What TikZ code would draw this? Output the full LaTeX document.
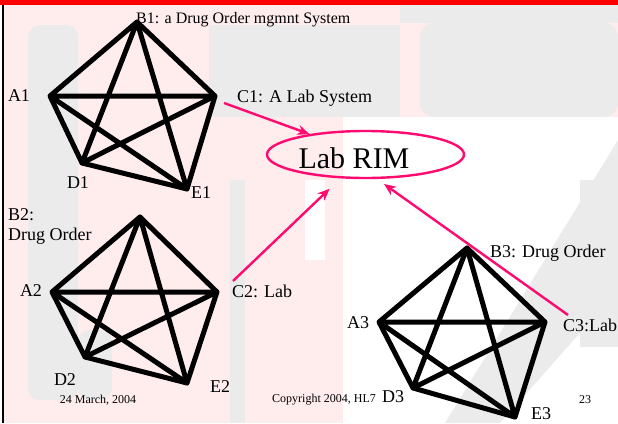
\documentclass[tikz,border=0pt]{standalone}
\usepackage{fontspec}
\setmainfont{Liberation Serif}
\usetikzlibrary{arrows.meta,shapes.geometric}
\definecolor{rimpink}{HTML}{FF0A6E}
\definecolor{wmpink}{HTML}{FFEDED}
\definecolor{wmgray}{HTML}{EBEBEB}
\tikzset{
  edge/.style={line width=5pt,line join=round,line cap=round},
  link/.style={draw=rimpink,line width=2.4pt,-{Stealth[length=12pt,width=10pt]}},
  vlabel/.style={font=\fontsize{18}{20}\selectfont,inner sep=1pt},
  syslabel/.style={font=\fontsize{16}{18}\selectfont,inner sep=1pt},
  footer/.style={font=\fontsize{12}{14}\selectfont,inner sep=1pt}
}

\begin{document}
\begin{tikzpicture}[x=1pt,y=-1pt]
    \useasboundingbox (0,0) rectangle (618,423);
    \fill[white] (0,0) rectangle (618,423);
    \fill[wmpink] (3,5) rectangle (618,423);
    \fill[wmgray,rounded corners=12pt] (28,25) rectangle (78,400);
    \fill[wmgray,rounded corners=12pt] (78,330) rectangle (112,400);
    \fill[wmgray] (209,25) rectangle (400,117);
    \fill[wmgray] (400,5) rectangle (618,23);
    \fill[wmgray,rounded corners=14pt] (420,23) rectangle (618,117);
    \fill[wmgray] (230,180) rectangle (245,423);
    \fill[white] (343,117) rectangle (618,423);
    \fill[white] (305,180) -- (325,180) -- (325,260) -- (305,260) -- cycle;
    \fill[wmgray] (618,140) -- (618,290) -- (500,423) -- (445,423) -- cycle;
    \fill[wmgray] (580,180) rectangle (618,347);
    \fill[red] (0,0) rectangle (618,5);
    \draw[line width=1.5pt] (3,5) -- (3,423);

    \coordinate (a1) at (50,96);
    \coordinate (b1) at (137,22);
    \coordinate (c1) at (215,96);
    \coordinate (d1) at (82,163);
    \coordinate (e1) at (187,189);
    \draw[edge] (a1) -- (b1) -- (c1) -- (e1) -- (d1) -- cycle;
    \draw[edge] (a1) -- (c1) -- (d1) -- (b1) -- (e1) -- cycle;
    \node[syslabel,anchor=west] (b1lab) at (135,20) {B1: a Drug Order mgmnt System};
    \node[vlabel] (a1lab) at (19,96) {A1};
    \node[vlabel,anchor=west] (c1lab) at (236,98) {C1: A Lab System};
    \node[vlabel] (d1lab) at (78,183) {D1};
    \node[vlabel] (e1lab) at (201,193) {E1};

    \coordinate (a2) at (52,292);
    \coordinate (b2) at (140,217);
    \coordinate (c2) at (217,292);
    \coordinate (d2) at (85,357);
    \coordinate (e2) at (187,383);
    \draw[edge] (a2) -- (b2) -- (c2) -- (e2) -- (d2) -- cycle;
    \draw[edge] (a2) -- (c2) -- (d2) -- (b2) -- (e2) -- cycle;
    \node[vlabel,anchor=west,align=left] (b2lab) at (7,226) {B2:\\Drug Order};
    \node[vlabel] (a2lab) at (31,291) {A2};
    \node[vlabel,anchor=west] (c2lab) at (231,291) {C2: Lab};
    \node[vlabel] (d2lab) at (65,380) {D2};
    \node[vlabel] (e2lab) at (220,387) {E2};

    \coordinate (a3) at (379,322);
    \coordinate (b3) at (467,248);
    \coordinate (c3) at (545,322);
    \coordinate (d3) at (413,388);
    \coordinate (e3) at (515,417);
    \draw[edge] (a3) -- (b3) -- (c3) -- (e3) -- (d3) -- cycle;
    \draw[edge] (a3) -- (c3) -- (d3) -- (b3) -- (e3) -- cycle;
    \node[vlabel,anchor=west] (b3lab) at (489,253) {B3: Drug Order};
    \node[vlabel] (a3lab) at (358,323) {A3};
    \node[vlabel,anchor=west] (c3lab) at (562,325) {C3:Lab};
    \node[vlabel] (d3lab) at (393,397) {D3};
    \node[vlabel] (e3lab) at (541,414) {E3};

    \node[draw=rimpink,line width=2.4pt,ellipse,minimum width=197pt,minimum height=47pt] (rim) at (365.5,154.5) {};
    \node[font=\fontsize{30}{32}\selectfont,inner sep=0pt] (rimtext) at (354,158) {Lab RIM};

    \coordinate (s1) at (224,103);
    \coordinate (s2) at (233,281);
    \coordinate (s3) at (568,315);
    \coordinate (t3) at (384,184);
    \draw[link] (s1) -- (rim);
    \draw[link,shorten >=15pt] (s2) -- (rim);
    \draw[link] (s3) -- (t3);

    \node[footer] (date) at (98,400) {24 March, 2004};
    \node[footer,anchor=west] (copy) at (271,400) {Copyright 2004, HL7};
    \node[footer] (page) at (585,400) {23};
\end{tikzpicture}
\end{document}
